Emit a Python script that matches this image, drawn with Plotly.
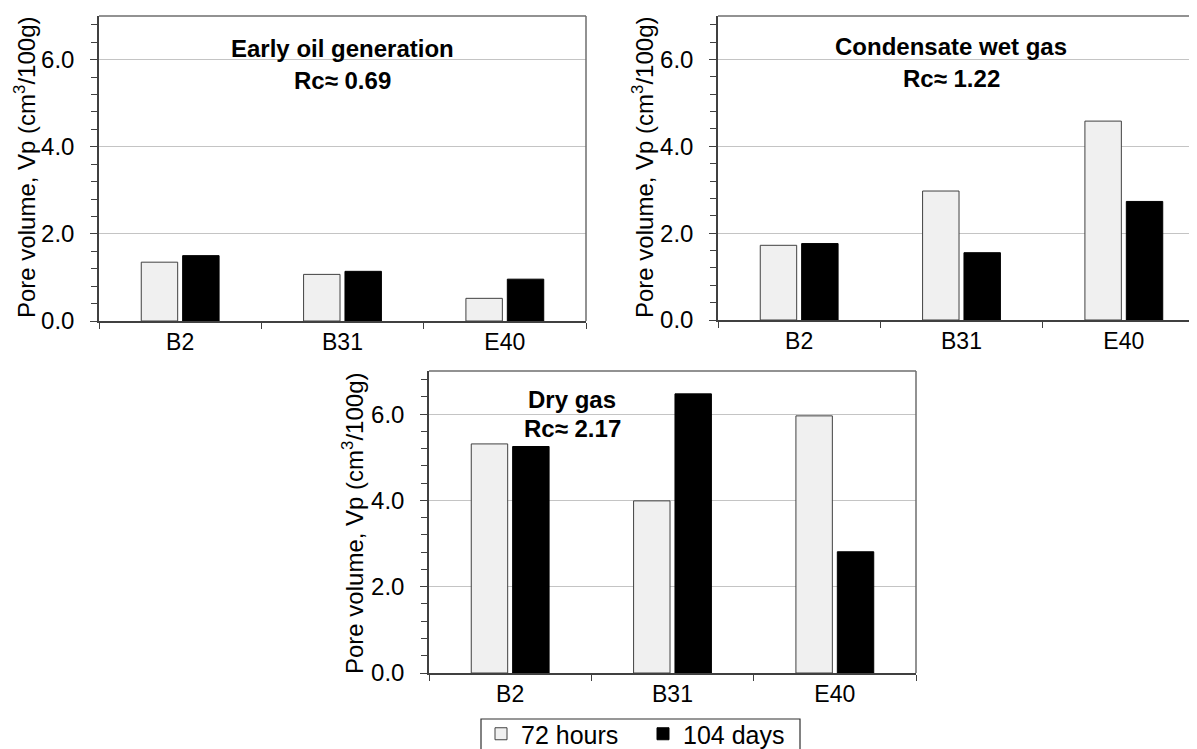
import plotly.graph_objects as go

categories = ["B2", "B31", "E40"]
series_names = ["72 hours", "104 days"]

early_72h = [1.35, 1.07, 0.52]
early_104d = [1.50, 1.14, 0.96]

wet_72h = [1.72, 2.97, 4.58]
wet_104d = [1.76, 1.55, 2.73]

dry_72h = [5.31, 3.99, 5.96]
dry_104d = [5.25, 6.47, 2.81]

panel_titles = ["Early oil generation", "Condensate wet gas", "Dry gas"]
panel_rc = ["Rc≈ 0.69", "Rc≈ 1.22", "Rc≈ 2.17"]
y_title = "Pore volume, Vp (cm<sup>3</sup>/100g)"
y_ticks = [0, 2, 4, 6]
y_ticklabels = ["0.0", "2.0", "4.0", "6.0"]

# page offset from default body margin
OFF = 8
W, H = 1197 - OFF, 749 - OFF

FONT = "Arial, 'Liberation Sans', sans-serif"
AX = "#404040"
FRAME = "#6e6e6e"
GRID = "#c4c4c4"
LIGHT = "#f0f0f0"

def px_x(p):
    return (p - OFF) / W

def px_y(p):
    return 1 - (p - OFF) / H

# panel pixel boxes in page coordinates: (left, right, top, bottom)
boxes = [(99, 586, 16, 321), (718, 1197, 16, 320), (429, 916, 371, 673)]
cat_w = (586 - 99) / 3.0

fig = go.Figure()
data = [(early_72h, early_104d), (wet_72h, wet_104d), (dry_72h, dry_104d)]
for i, (a, b) in enumerate(data):
    sfx = "" if i == 0 else str(i + 1)
    fig.add_trace(go.Bar(x=categories, y=a, name=series_names[0], legendgroup="a",
                         showlegend=(i == 0), xaxis="x" + sfx, yaxis="y" + sfx,
                         marker=dict(color=LIGHT, line=dict(color=AX, width=1))))
    fig.add_trace(go.Bar(x=categories, y=b, name=series_names[1], legendgroup="b",
                         showlegend=(i == 0), xaxis="x" + sfx, yaxis="y" + sfx,
                         marker=dict(color="#000000", line=dict(color="#000000", width=1))))

layout = dict(
    width=W, height=H,
    margin=dict(l=0, r=0, t=0, b=0, autoexpand=False),
    paper_bgcolor="white", plot_bgcolor="white",
    font=dict(family=FONT, color="#000000", size=23),
    barmode="group", bargap=0.49, bargroupgap=0.12,
    showlegend=True,
    legend=dict(orientation="h", x=px_x(481), y=px_y(711), xanchor="left", yanchor="top",
                borderwidth=0, bgcolor="rgba(0,0,0,0)",
                font=dict(size=25, family=FONT), traceorder="normal",
                itemwidth=30, entrywidth=117, entrywidthmode="pixels", tracegroupgap=0),
)

annotations = []
shapes = []
for i, (l, r, t, b) in enumerate(boxes):
    sfx = "" if i == 0 else str(i + 1)
    xr = [-0.5, -0.5 + (r - l) / cat_w]
    layout["xaxis" + sfx] = dict(
        domain=[px_x(l), min(1.0, px_x(r))], anchor="y" + sfx, type="category", range=xr,
        showline=True, linecolor=AX, linewidth=1.5, mirror=False,
        ticks="outside", tickson="boundaries", ticklen=6, tickcolor=AX, tickwidth=1,
        showgrid=False, tickfont=dict(size=23), ticklabelstandoff=0, fixedrange=True)
    layout["yaxis" + sfx] = dict(
        domain=[px_y(b), px_y(t)], anchor="x" + sfx, range=[0, 7],
        tickvals=y_ticks, ticktext=y_ticklabels,
        showline=True, linecolor=AX, linewidth=1.5,
        ticks="outside", ticklen=7, tickcolor=AX, tickwidth=1,
        minor=dict(dtick=0.4, tick0=0, ticks="outside", ticklen=6, tickcolor=AX, showgrid=False),
        showgrid=True, gridcolor=GRID, gridwidth=1, zeroline=False,
        tickfont=dict(size=24), ticklabelstandoff=11, fixedrange=True)
    xd = "x" + sfx + " domain"
    yd = "y" + sfx + " domain"
    shapes.append(dict(type="line", xref=xd, yref=yd, x0=0, x1=1, y0=1, y1=1,
                       line=dict(color=FRAME, width=1.5)))
    if i != 1:
        shapes.append(dict(type="line", xref=xd, yref=yd, x0=1, x1=1, y0=0, y1=1,
                           line=dict(color=FRAME, width=1.5)))

# legend frame
shapes.append(dict(type="rect", xref="paper", yref="paper",
                   x0=px_x(481), x1=px_x(800), y0=px_y(770), y1=px_y(719),
                   line=dict(color="#303030", width=1.2), fillcolor="rgba(0,0,0,0)"))

# y titles
ytitle_pos = [(25, 168), (643, 168), (353, 524)]
for (x, y) in ytitle_pos:
    annotations.append(dict(text=y_title, x=px_x(x), y=px_y(y), xref="paper", yref="paper",
                            showarrow=False, textangle=-90, font=dict(size=24),
                            xanchor="center", yanchor="middle"))

# panel titles
title_pos = [(342, 49, 80), (951, 47, 78), (572, 399, 428)]
for i, (x, y1, y2) in enumerate(title_pos):
    annotations.append(dict(text="<b>%s</b>" % panel_titles[i], x=px_x(x), y=px_y(y1),
                            xref="paper", yref="paper", showarrow=False,
                            font=dict(size=24), xanchor="center", yanchor="middle"))
    annotations.append(dict(text="<b>%s</b>" % panel_rc[i], x=px_x(x), y=px_y(y2),
                            xref="paper", yref="paper", showarrow=False,
                            font=dict(size=24), xanchor="center", yanchor="middle"))

layout["annotations"] = annotations
layout["shapes"] = shapes
fig.update_layout(**layout)
fig.write_html("out.html")
